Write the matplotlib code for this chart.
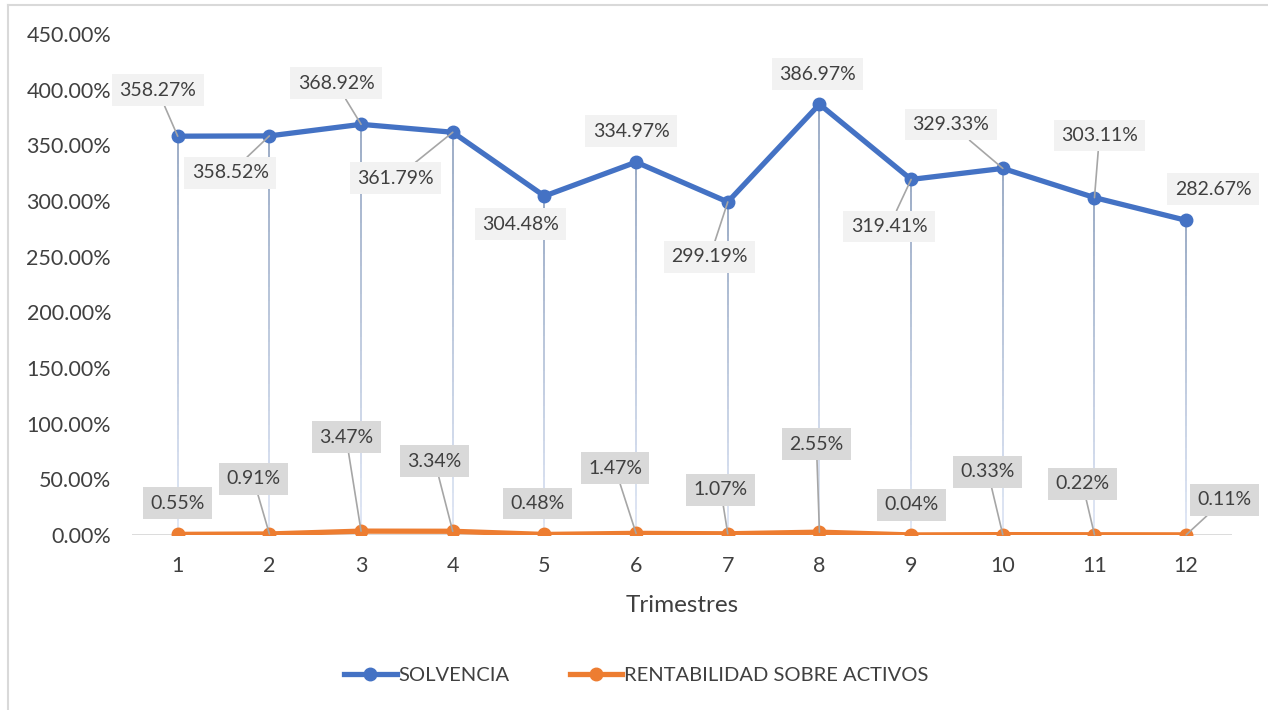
import numpy as np
import matplotlib.pyplot as plt
from matplotlib.collections import LineCollection
from matplotlib.lines import Line2D

plt.rcParams['font.family'] = ['Lato', 'DejaVu Sans']

trimestres = [1, 2, 3, 4, 5, 6, 7, 8, 9, 10, 11, 12]
solvencia = [358.27, 358.52, 368.92, 361.79, 304.48, 334.97, 299.19, 386.97, 319.41, 329.33, 303.11, 282.67]
rentabilidad = [0.55, 0.91, 3.47, 3.34, 0.48, 1.47, 1.07, 2.55, 0.04, 0.33, 0.22, 0.11]

# label offsets in pixels (dx, dy)
off_solv = [(-20, 46), (-39, -37), (-25, 41), (-57, -46), (-24, -28), (-5, 31),
            (-18, -55), (-2, 30), (-22, -47), (-52, 44), (5, 62), (27, 31)]
off_rent = [(0, 31), (-16, 55), (-15, 94), (-18, 70), (-7, 31), (-21, 65),
            (-7, 44), (-3, 88), (0, 30), (-15, 63), (-12, 51), (38, 35)]

BLUE = '#4472C4'
ORANGE = '#ED7D31'
TXT = '#404040'

fig = plt.figure(figsize=(12.68, 7.1), dpi=100)
ax = fig.add_axes([0.104, 0.2465, 0.8676, 0.7055])

x = np.arange(len(trimestres))

# drop lines with a soft gradient
segs, cols = [], []
top_c = np.array([0.58, 0.65, 0.76])
bot_c = np.array([0.87, 0.90, 0.96])
for xi, yi in zip(x, solvencia):
    ys = np.linspace(yi, 0, 30)
    for k in range(len(ys) - 1):
        segs.append([(xi, ys[k]), (xi, ys[k + 1])])
        t = k / (len(ys) - 2)
        cols.append(tuple(top_c * (1 - t) + bot_c * t))
ax.add_collection(LineCollection(segs, colors=cols, linewidths=1.3, zorder=1))

ax.axhline(0, color='#D9D9D9', lw=1.3, zorder=1)

ax.plot(x, solvencia, color=BLUE, lw=3.8, marker='o', ms=9, zorder=3, label='SOLVENCIA')
ax.plot(x, rentabilidad, color=ORANGE, lw=3.8, marker='o', ms=9, zorder=3,
        label='RENTABILIDAD SOBRE ACTIVOS')


def put_labels(vals, offs, bg):
    for xi, v, (dx, dy) in zip(x, vals, offs):
        lead = np.hypot(dx, dy) > 43
        ax.annotate(f'{v:.2f}%', (xi, v), xytext=(dx, dy), textcoords='offset pixels',
                    ha='center', va='center', fontsize=14, color=TXT, zorder=5,
                    bbox=dict(boxstyle='square,pad=0.38', fc=bg, ec='none'),
                    arrowprops=dict(arrowstyle='-', color='#A6A6A6', lw=1.2,
                                    shrinkA=0, shrinkB=0) if lead else None)


put_labels(solvencia, off_solv, '#F2F2F2')
put_labels(rentabilidad, off_rent, '#D9D9D9')

ax.set_xlim(-0.5, len(x) - 0.5)
ax.set_ylim(0, 450)
ax.set_yticks(np.arange(0, 451, 50))
ax.set_yticklabels([f'{v:.2f}%' for v in np.arange(0, 451, 50)])
ax.set_xticks(x)
ax.set_xticklabels([str(t) for t in trimestres])
ax.tick_params(length=0, labelsize=15.5, labelcolor=TXT)
ax.tick_params(axis='y', pad=15)
ax.tick_params(axis='x', pad=15)
for s in ax.spines.values():
    s.set_visible(False)
ax.set_xlabel('Trimestres', fontsize=17.5, color=TXT, labelpad=14)

handles = [Line2D([], [], color=BLUE, lw=3.8, marker='o', ms=9),
           Line2D([], [], color=ORANGE, lw=3.8, marker='o', ms=9)]
fig.legend(handles, ['SOLVENCIA', 'RENTABILIDAD SOBRE ACTIVOS'], loc='center',
           bbox_to_anchor=(0.502, 0.049), ncol=2, frameon=False, fontsize=14.5,
           labelcolor=TXT, handlelength=2.6, handletextpad=0.1, columnspacing=3.0)

# chart border
fig.add_artist(Line2D([8 / 1268, 8 / 1268], [0, 1 - 5 / 710], transform=fig.transFigure,
                      color='#D9D9D9', lw=1.5))
fig.add_artist(Line2D([8 / 1268, 1], [1 - 5 / 710, 1 - 5 / 710], transform=fig.transFigure,
                      color='#D9D9D9', lw=1.5))

fig.savefig('out.png', dpi=100)
